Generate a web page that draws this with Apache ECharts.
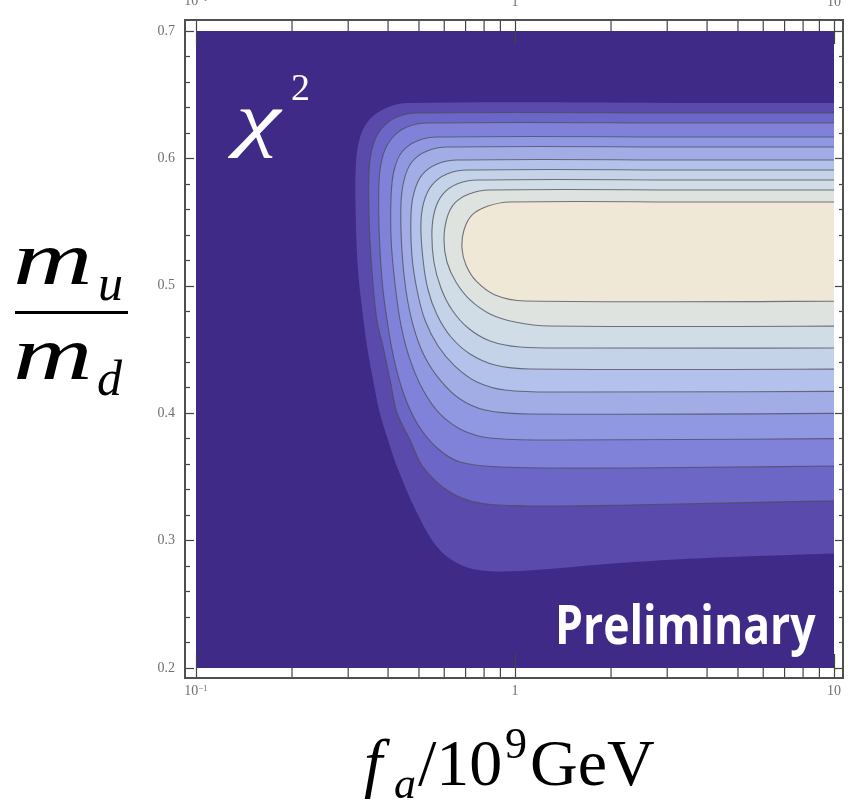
<!DOCTYPE html>
<html><head><meta charset="utf-8">
<script src="https://cdn.jsdelivr.net/npm/echarts@6/dist/echarts.min.js"></script>
<style>html,body{margin:0;padding:0;background:#fff}#c{width:848px;height:809px}</style>
</head><body><div id="c"></div>
<script>
// axis ticks
const xMajorTicks = [0.1, 1, 10];
const xMinorTicks = [0.2, 0.3, 0.4, 0.5, 0.6, 0.7, 0.8, 0.9, 2, 3, 4, 5, 6, 7, 8, 9];
const yRange = [0.2, 0.7];

// contour boundaries (outermost -> innermost), points as [f_a (1e9 GeV), m_u/m_d]
const contour0 = [[40,0.6435],[20,0.6435],[3.8,0.6435],[0.4585,0.6435],[0.394,0.6396],[0.351,0.6309],[0.327,0.6168],[0.317,0.5948],[0.317,0.5516],[0.322,0.5124],[0.332,0.4810],[0.344,0.4520],[0.359,0.4261],[0.377,0.4002],[0.400,0.3790],[0.427,0.3578],[0.493,0.3217],[0.570,0.2950],[0.658,0.2824],[0.766,0.2769],[1.037,0.2761],[2.13,0.2824],[4.72,0.2871],[20,0.2918],[40,0.2918]];
const contour1 = [[40,0.6356],[20,0.6356],[3.8,0.6356],[0.4965,0.6356],[0.427,0.6325],[0.383,0.6239],[0.359,0.6105],[0.349,0.5909],[0.349,0.5516],[0.356,0.5124],[0.369,0.4732],[0.386,0.4520],[0.406,0.4261],[0.427,0.4002],[0.469,0.3790],[0.515,0.3578],[0.625,0.3382],[0.777,0.3295],[1.114,0.3272],[2.29,0.3279],[20,0.3327],[40,0.3327]];
const contour2 = [[40,0.6278],[20,0.6278],[3.8,0.6278],[0.534,0.6278],[0.4585,0.6246],[0.412,0.6160],[0.386,0.6027],[0.375,0.5830],[0.375,0.5438],[0.383,0.5046],[0.397,0.4732],[0.418,0.4418],[0.449,0.4143],[0.497,0.3907],[0.570,0.3727],[0.672,0.3617],[0.898,0.3578],[2.29,0.3570],[20,0.3593],[40,0.3593]];
const contour3 = [[40,0.6168],[20,0.6168],[3.8,0.6168],[0.574,0.6168],[0.493,0.6137],[0.442,0.6050],[0.418,0.5909],[0.409,0.5713],[0.409,0.5359],[0.421,0.5006],[0.439,0.4692],[0.469,0.4418],[0.515,0.4182],[0.582,0.3994],[0.682,0.3868],[0.835,0.3805],[1.384,0.3790],[20,0.3805],[40,0.3805]];
const contour4 = [[40,0.6089],[20,0.6089],[3.8,0.6089],[0.617,0.6089],[0.530,0.6058],[0.475,0.5972],[0.449,0.5830],[0.439,0.5634],[0.442,0.5281],[0.455,0.4967],[0.479,0.4692],[0.518,0.4457],[0.582,0.4261],[0.672,0.4111],[0.805,0.4025],[1.114,0.3994],[20,0.4002],[40,0.4002]];
const contour5 = [[40,0.5987],[20,0.5987],[3.8,0.5987],[0.663,0.5987],[0.570,0.5956],[0.511,0.5870],[0.482,0.5728],[0.472,0.5556],[0.475,0.5242],[0.493,0.4967],[0.522,0.4732],[0.574,0.4527],[0.648,0.4370],[0.760,0.4245],[0.931,0.4182],[1.384,0.4166],[20,0.4174],[40,0.4174]];
const contour6 = [[40,0.5909],[20,0.5909],[3.8,0.5909],[0.713,0.5909],[0.612,0.5878],[0.549,0.5791],[0.518,0.5658],[0.507,0.5477],[0.515,0.5203],[0.534,0.4967],[0.570,0.4771],[0.630,0.4598],[0.723,0.4465],[0.866,0.4378],[1.114,0.4347],[20,0.4347],[40,0.4347]];
const contour7 = [[40,0.5830],[20,0.5830],[3.8,0.5830],[0.766,0.5830],[0.658,0.5799],[0.595,0.5721],[0.561,0.5595],[0.549,0.5422],[0.557,0.5187],[0.586,0.4983],[0.635,0.4810],[0.713,0.4669],[0.835,0.4567],[1.037,0.4520],[1.60,0.4512],[20,0.4512],[40,0.4512]];
const contour8 = [[40,0.5752],[20,0.5752],[3.8,0.5752],[0.835,0.5752],[0.718,0.5721],[0.648,0.5650],[0.612,0.5532],[0.599,0.5359],[0.612,0.5187],[0.653,0.5030],[0.723,0.4889],[0.835,0.4779],[1.0,0.4716],[1.287,0.4685],[20,0.4685],[40,0.4685]];
const contour9 = [[40,0.5658],[20,0.5658],[3.8,0.5658],[0.965,0.5658],[0.823,0.5626],[0.734,0.5556],[0.692,0.5438],[0.682,0.5297],[0.702,0.5163],[0.755,0.5038],[0.866,0.4928],[1.075,0.4881],[20,0.4881],[40,0.4881]];

const contours = [contour0, contour1, contour2, contour3, contour4, contour5, contour6, contour7, contour8, contour9];
const bandColors = ['#5a4aab', '#6c66c6', '#8082da', '#9198e2', '#a2ade6', '#b3c2ea', '#c4d3e8', '#d0dde6', '#dfe3df', '#f0e8d6'];
const backgroundColor = '#402a87';

const serif = '"Liberation Serif", "Times New Roman", serif';

function xLabel(v) {
  const e = Math.round(Math.log10(v));
  if (e === 0) return '{b|1}';
  if (e === 1) return '{b|10}';
  return '{b|10}{s|\u22121}';
}
const labelRich = {
  b: {fontFamily: serif, fontSize: 14, color: '#707070'},
  s: {fontFamily: serif, fontSize: 9, color: '#707070', verticalAlign: 'top', padding: [0, 0, 6, 0]}
};

const chart = echarts.init(document.getElementById('c'));
chart.setOption({
  animation: false,
  backgroundColor: '#ffffff',
  grid: {left: 196, right: 14, top: 31, bottom: 141, show: true, backgroundColor: backgroundColor, borderWidth: 0,
         containLabel: false, outerBoundsMode: 'none'},
  xAxis: [
    {type: 'log', logBase: 10, min: 0.1, max: 10, position: 'bottom', offset: 10, z: 10,
     axisLine: {show: false}, splitLine: {show: false},
     axisTick: {show: true, inside: true, length: 24, lineStyle: {color: '#444', width: 1.2}},
     axisLabel: {margin: 6, formatter: xLabel, rich: labelRich}},
    {type: 'log', logBase: 10, min: 0.1, max: 10, position: 'top', offset: 11, z: 10,
     axisLine: {show: false}, splitLine: {show: false},
     axisTick: {show: true, inside: true, length: 24, lineStyle: {color: '#444', width: 1.2}},
     axisLabel: {margin: 11, formatter: xLabel, rich: labelRich}}
  ],
  yAxis: [
    {type: 'value', min: yRange[0], max: yRange[1], interval: 0.1, position: 'left', offset: 11, z: 10,
     axisLine: {show: false}, splitLine: {show: false},
     axisTick: {show: true, inside: true, length: 9, lineStyle: {color: '#444', width: 1.2}},
     minorTick: {show: true, splitNumber: 5, length: 5, lineStyle: {color: '#444', width: 1.2}},
     axisLabel: {margin: 10, color: '#707070', fontFamily: serif, fontSize: 14, formatter: v => v.toFixed(1)}},
    {type: 'value', min: yRange[0], max: yRange[1], interval: 0.1, position: 'right', offset: 9, z: 10,
     axisLine: {show: false}, splitLine: {show: false},
     axisTick: {show: true, inside: true, length: 8, lineStyle: {color: '#444', width: 1.2}},
     minorTick: {show: true, splitNumber: 5, length: 4, lineStyle: {color: '#444', width: 1.2}},
     axisLabel: {show: false}}
  ],
  series: [
    {
      type: 'custom', xAxisIndex: 0, yAxisIndex: 0, clip: true, silent: true, z: 2,
      data: contours.map((c, i) => ({value: [1, 0.5, i]})),
      encode: {x: 0, y: 1},
      renderItem: function (params, api) {
        const i = api.value(2);
        const pts = contours[i].map(p => api.coord(p));
        return {
          type: 'polygon', z2: i,
          shape: {points: pts, smooth: 0.35},
          style: {fill: bandColors[i], stroke: i === 0 ? 'rgba(0,0,0,0)' : 'rgba(75,75,90,0.75)', lineWidth: 1.1}
        };
      }
    },
    {
      type: 'custom', xAxisIndex: 0, yAxisIndex: 0, clip: false, silent: true, z: 12,
      data: xMinorTicks.map(v => [v, yRange[0]]),
      encode: {x: 0, y: 1},
      renderItem: function (params, api) {
        const b = api.coord([api.value(0), yRange[0]]);
        const t = api.coord([api.value(0), yRange[1]]);
        const yb = b[1] + 10, yt = t[1] - 11;
        return {type: 'group', children: [
          {type: 'line', shape: {x1: b[0], y1: yb, x2: b[0], y2: yb - 11}, style: {stroke: '#444', lineWidth: 1.2}},
          {type: 'line', shape: {x1: t[0], y1: yt, x2: t[0], y2: yt + 11}, style: {stroke: '#444', lineWidth: 1.2}}
        ]};
      }
    }
  ],
  graphic: [
    {type: 'rect', z: 20, shape: {x: 185, y: 20, width: 658, height: 658}, style: {fill: 'none', stroke: '#505050', lineWidth: 2}},
    // chi^2
    {type: 'text', z: 30, x: 236, y: 124, scaleX: 1.4, style: {text: '\u03c7', fontFamily: serif, fontStyle: 'italic', fontSize: 72, fill: '#ffffff', verticalAlign: 'middle'}},
    {type: 'text', z: 30, x: 291, y: 90, style: {text: '2', fontFamily: serif, fontSize: 38, fill: '#ffffff', verticalAlign: 'middle'}},
    // Preliminary
    {type: 'text', z: 30, x: 555, y: 629, scaleX: 0.84, style: {text: 'Preliminary', fontFamily: '"Open Sans", sans-serif', fontWeight: 'bold', fontSize: 53, fill: '#ffffff', verticalAlign: 'middle'}},
    // y title m_u / m_d
    {type: 'text', z: 30, x: 13, y: 264, scaleX: 1.45, style: {text: 'm', fontFamily: serif, fontStyle: 'italic', fontSize: 76, fill: '#000', verticalAlign: 'middle'}},
    {type: 'text', z: 30, x: 98, y: 287, style: {text: 'u', fontFamily: serif, fontStyle: 'italic', fontSize: 50, fill: '#000', verticalAlign: 'middle'}},
    {type: 'rect', z: 30, shape: {x: 15, y: 311, width: 113, height: 3}, style: {fill: '#000'}},
    {type: 'text', z: 30, x: 13, y: 359, scaleX: 1.45, style: {text: 'm', fontFamily: serif, fontStyle: 'italic', fontSize: 76, fill: '#000', verticalAlign: 'middle'}},
    {type: 'text', z: 30, x: 97, y: 382, style: {text: 'd', fontFamily: serif, fontStyle: 'italic', fontSize: 50, fill: '#000', verticalAlign: 'middle'}},
    // x title f_a / 10^9 GeV
    {type: 'text', z: 30, x: 364, y: 768, style: {text: 'f', fontFamily: serif, fontStyle: 'italic', fontSize: 66, fill: '#000', verticalAlign: 'middle'}},
    {type: 'text', z: 30, x: 394, y: 786, style: {text: 'a', fontFamily: serif, fontStyle: 'italic', fontSize: 44, fill: '#000', verticalAlign: 'middle'}},
    {type: 'text', z: 30, x: 418, y: 768, style: {text: '/10', fontFamily: serif, fontSize: 66, fill: '#000', verticalAlign: 'middle'}},
    {type: 'text', z: 30, x: 505, y: 746, style: {text: '9', fontFamily: serif, fontSize: 44, fill: '#000', verticalAlign: 'middle'}},
    {type: 'text', z: 30, x: 530, y: 768, style: {text: 'GeV', fontFamily: serif, fontSize: 66, fill: '#000', verticalAlign: 'middle'}}
  ]
});
</script></body></html>
